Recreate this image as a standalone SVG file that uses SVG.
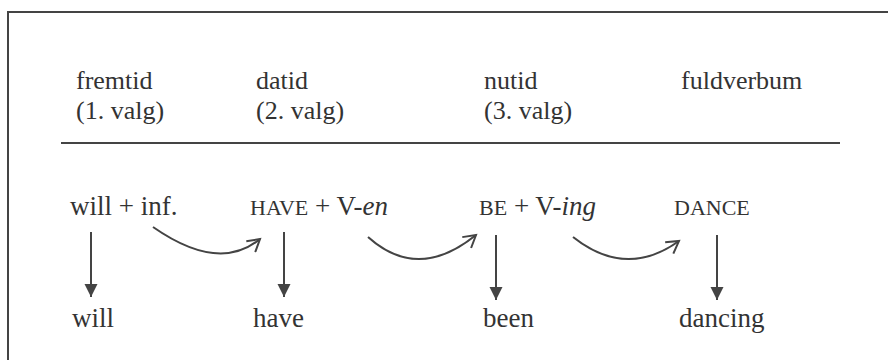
<svg xmlns="http://www.w3.org/2000/svg" width="888" height="360" viewBox="0 0 888 360">
<style>
text{font-family:"Liberation Serif","Times New Roman",serif;font-size:27px;fill:#333}
.h{font-size:26px}
.sc{font-size:22px}
.it{font-style:italic}
.ln{stroke:#444;stroke-width:2;fill:none}
</style>
<defs>
<marker id="tri" markerWidth="14" markerHeight="14" refX="13" refY="7" orient="auto" markerUnits="userSpaceOnUse">
<path d="M0,0.5 L13,7 L0,13.5 Z" fill="#444"/>
</marker>
<marker id="open" markerWidth="16" markerHeight="16" refX="13" refY="8" orient="auto" markerUnits="userSpaceOnUse">
<path d="M1,1 L13,8 L1,15" fill="none" stroke="#444" stroke-width="2"/>
</marker>
</defs>
<rect width="888" height="360" fill="#fff"/>
<g id="frame">
<line class="ln" x1="7" y1="12" x2="888" y2="12"/>
<line class="ln" x1="8" y1="12" x2="8" y2="360"/>
<line class="ln" x1="61" y1="143" x2="840" y2="143"/>
</g>
<g id="h-fremtid"><text class="h" x="76" y="89">fremtid</text><text class="h" x="76" y="119">(1. valg)</text></g>
<g id="h-datid"><text class="h" x="256" y="89">datid</text><text class="h" x="256" y="119">(2. valg)</text></g>
<g id="h-nutid"><text class="h" x="484" y="89">nutid</text><text class="h" x="484" y="119">(3. valg)</text></g>
<g id="h-fuldverbum"><text class="h" x="681" y="89">fuldverbum</text></g>
<g id="n-will"><text x="70" y="215">will + inf.</text></g>
<g id="n-have"><text x="250" y="215"><tspan class="sc">HAVE</tspan> + V-<tspan class="it">en</tspan></text></g>
<g id="n-be"><text x="479" y="215"><tspan class="sc">BE</tspan> + V-<tspan class="it">ing</tspan></text></g>
<g id="n-dance"><text x="674" y="215" class="sc">DANCE</text></g>
<g id="o-will"><text x="72" y="327">will</text></g>
<g id="o-have"><text x="253" y="327">have</text></g>
<g id="o-been"><text x="483" y="327">been</text></g>
<g id="o-dancing"><text x="679" y="327">dancing</text></g>
<g id="connectors">
<line class="ln" x1="91" y1="232" x2="91" y2="297" marker-end="url(#tri)"/>
<line class="ln" x1="284" y1="232" x2="284" y2="297" marker-end="url(#tri)"/>
<line class="ln" x1="496" y1="235" x2="496" y2="300" marker-end="url(#tri)"/>
<line class="ln" x1="717" y1="235" x2="717" y2="300" marker-end="url(#tri)"/>
<path class="ln" d="M153,227 Q219,273 260,239" marker-end="url(#open)"/>
<path class="ln" d="M368,237 Q418,282 476,235" marker-end="url(#open)"/>
<path class="ln" d="M573,237 Q626,279 679,241" marker-end="url(#open)"/>
</g>
</svg>
